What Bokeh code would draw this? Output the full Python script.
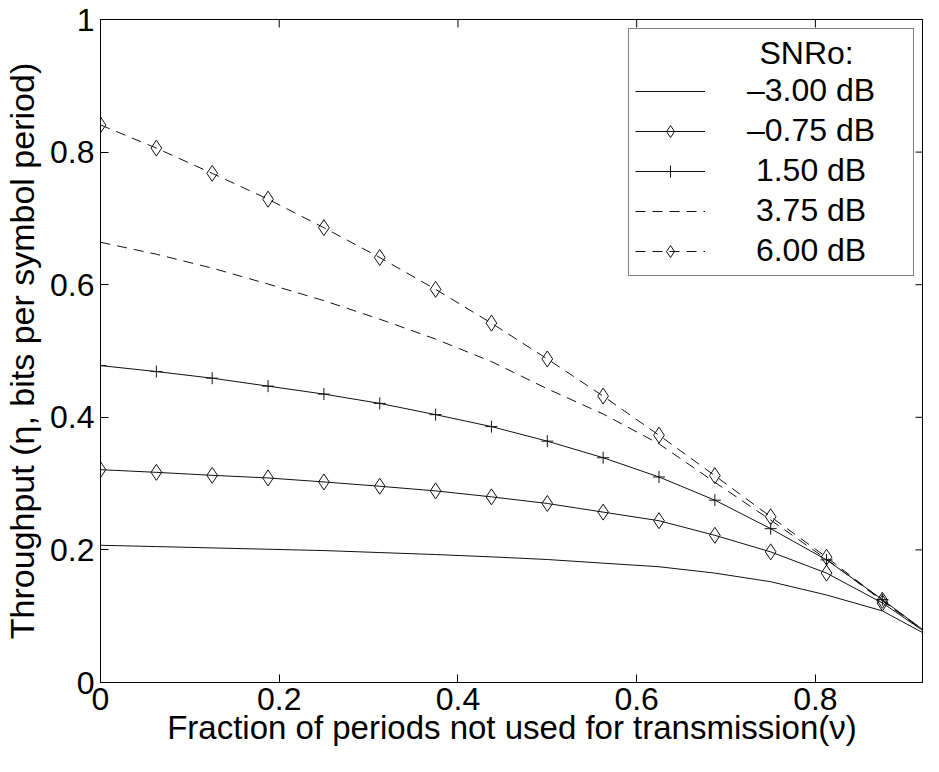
import math
from bokeh.plotting import figure
from bokeh.models import (Legend, LegendItem, FixedTicker, Range1d,
                          ColumnDataSource)
from bokeh.embed import file_html
from bokeh.resources import INLINE

# ---- data ----
nu = [0.0, 0.0625, 0.125, 0.1875, 0.25, 0.3125, 0.375, 0.4375,
      0.5, 0.5625, 0.625, 0.6875, 0.75, 0.8125, 0.875, 0.9375]

snr_m300 = [0.207, 0.205, 0.203, 0.201, 0.199, 0.196, 0.193, 0.1895,
            0.1855, 0.180, 0.1746, 0.165, 0.152, 0.132, 0.108, 0.0625]
snr_m075 = [0.321, 0.317, 0.3125, 0.3085, 0.3025, 0.296, 0.289, 0.280,
            0.270, 0.257, 0.244, 0.222, 0.197, 0.165, 0.120, 0.0625]
snr_p150 = [0.478, 0.469, 0.459, 0.447, 0.435, 0.421, 0.404, 0.386,
            0.364, 0.339, 0.310, 0.275, 0.232, 0.185, 0.125, 0.0625]
snr_p375 = [0.664, 0.646, 0.625, 0.601, 0.576, 0.548, 0.518, 0.484,
            0.443, 0.405, 0.360, 0.302, 0.245, 0.186, 0.123, 0.0625]
snr_p600 = [0.841, 0.806, 0.768, 0.729, 0.686, 0.641, 0.593, 0.542,
            0.488, 0.432, 0.373, 0.312, 0.250, 0.189, 0.124, 0.0625]

series_labels = ["\u20133.00 dB", "\u20130.75 dB", "\u00a01.50 dB",
                 "\u00a03.75 dB", "\u00a06.00 dB"]
legend_title = "SNRo:"

x_ticks = [0, 0.2, 0.4, 0.6, 0.8]
x_tick_labels = ["0", "0.2", "0.4", "0.6", "0.8"]
y_ticks = [0, 0.2, 0.4, 0.6, 0.8, 1.0]
y_tick_labels = ["0", "0.2", "0.4", "0.6", "0.8", "1"]

x_label = "Fraction of periods not used for transmission(\u03bd)"
y_label = "Throughput (\u03b7, bits per symbol period)"

X_END = 0.921
FONT = "Liberation Sans"
INK = "#111111"

W, H = 923, 756
B_LEFT, B_TOP, B_BOTTOM = 97, 19, 74

p = figure(width=W, height=H, output_backend="svg", toolbar_location=None,
           x_range=Range1d(0, X_END), y_range=Range1d(0, 1),
           min_border_left=B_LEFT, min_border_top=B_TOP, min_border_right=0,
           min_border_bottom=B_BOTTOM)
p.grid.visible = False
p.outline_line_color = "black"
p.outline_line_width = 1

src = ColumnDataSource(dict(x=nu, a=snr_m300, b=snr_m075, c=snr_p150,
                            d=snr_p375, e=snr_p600))

r1 = p.line("x", "a", source=src, line_color=INK, line_width=1)
r2l = p.line("x", "b", source=src, line_color=INK, line_width=1)
r2m = p.scatter("x", "b", source=src, marker="diamond", size=16,
                fill_color=None, line_color=INK, line_width=1)
r3l = p.line("x", "c", source=src, line_color=INK, line_width=1)
r3m = p.scatter("x", "c", source=src, marker="cross", size=12,
                line_color=INK, line_width=1)
r4 = p.line("x", "d", source=src, line_color=INK, line_width=1,
            line_dash="10 7")
r5l = p.line("x", "e", source=src, line_color=INK, line_width=1,
             line_dash="10 7")
r5m = p.scatter("x", "e", source=src, marker="diamond", size=16,
                fill_color=None, line_color=INK, line_width=1)

# inward tick marks on the top and right edges of the box
p.scatter(x=x_ticks, y=[1.0] * len(x_ticks), marker="dash", size=16,
          angle=math.pi / 2, line_color="black", line_width=1)
p.scatter(x=[X_END] * len(y_ticks), y=y_ticks, marker="dash", size=16,
          line_color="black", line_width=1)

def style_axis(ax, ticks, labels):
    ax.ticker = FixedTicker(ticks=ticks)
    ax.major_label_overrides = {t: s for t, s in zip(ticks, labels)}
    ax.major_tick_in = 8
    ax.major_tick_out = 0
    ax.minor_tick_line_color = None
    ax.axis_line_color = "black"
    ax.major_tick_line_color = "black"
    ax.major_label_text_font = FONT
    ax.major_label_text_font_size = "32px"
    ax.major_label_text_color = "black"
    ax.axis_label_text_font = FONT
    ax.axis_label_text_font_style = "normal"
    ax.axis_label_text_color = "black"

style_axis(p.xaxis[0], x_ticks, x_tick_labels)
style_axis(p.yaxis[0], y_ticks, y_tick_labels)
p.xaxis[0].axis_label = x_label
p.yaxis[0].axis_label = y_label
p.xaxis[0].axis_label_text_font_size = "33px"
p.yaxis[0].axis_label_text_font_size = "34px"
p.xaxis[0].major_label_standoff = 5
p.xaxis[0].axis_label_standoff = -4
p.yaxis[0].major_label_standoff = 6
p.yaxis[0].axis_label_standoff = 6

legend = Legend(items=[
    LegendItem(label=series_labels[0], renderers=[r1]),
    LegendItem(label=series_labels[1], renderers=[r2l, r2m]),
    LegendItem(label=series_labels[2], renderers=[r3l, r3m]),
    LegendItem(label=series_labels[3], renderers=[r4]),
    LegendItem(label=series_labels[4], renderers=[r5l, r5m]),
], location="top_right", margin=9, padding=6, spacing=3,
   glyph_width=70, glyph_height=30, label_height=30, label_width=160,
   label_standoff=42,
   border_line_color="black", border_line_width=1,
   background_fill_color="white", background_fill_alpha=1,
   label_text_font=FONT, label_text_font_size="32px",
   label_text_color="black",
   title="\u00a0" * 14 + legend_title, title_text_font=FONT,
   title_text_font_size="32px", title_text_font_style="normal",
   title_text_color="black", title_standoff=-20)
p.add_layout(legend)

open("out.html", "w").write(file_html(p, INLINE))
